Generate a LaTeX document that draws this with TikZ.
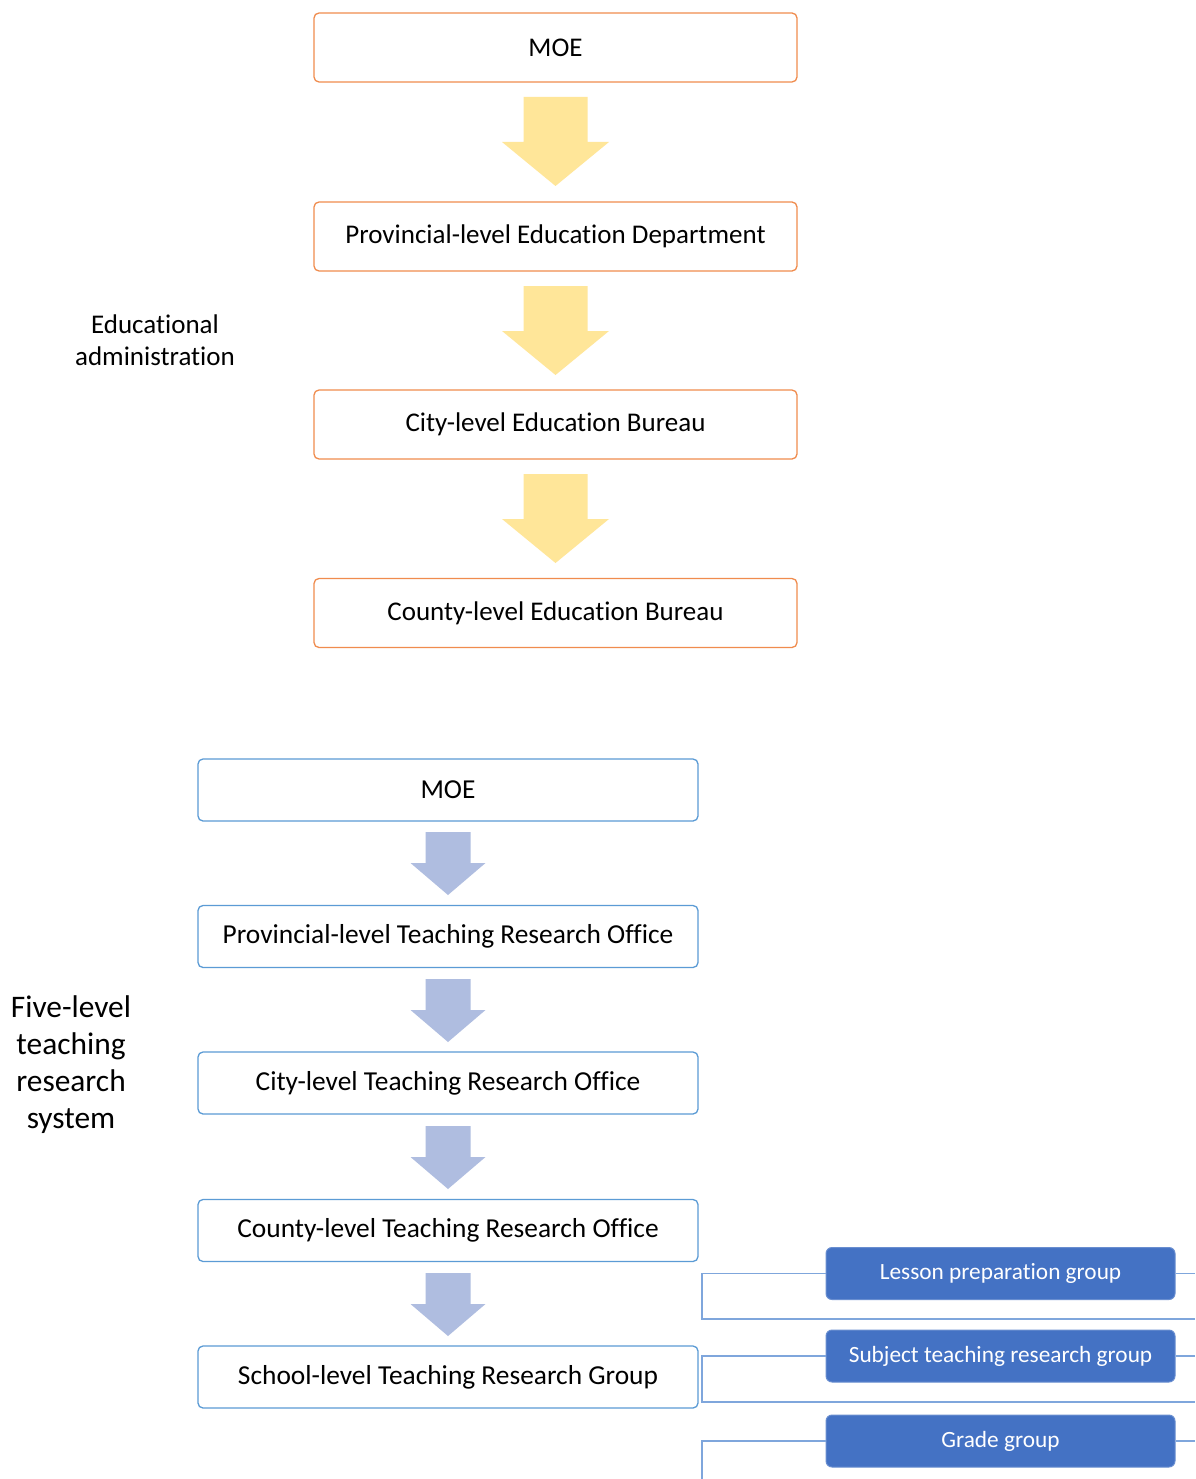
\documentclass[tikz,border=0pt]{standalone}
\usepackage{fontspec}
\setmainfont{Carlito}[Ligatures={NoCommon}]
\begin{document}
\begin{tikzpicture}[x=1pt,y=-1pt,
  obox/.style={draw=orangeb,line width=1.3pt,rounded corners=5pt,fill=white,minimum width=483pt,minimum height=69pt,font=\fontsize{27}{32}\selectfont,inner sep=0pt},
  bbox/.style={draw=blueb,line width=1.3pt,rounded corners=5pt,fill=white,minimum width=500pt,minimum height=62pt,font=\fontsize{27.4}{32}\selectfont,inner sep=0pt},
  fbox/.style={draw=fblue!80!white,line width=1pt,rounded corners=6pt,fill=fblue,minimum width=349pt,minimum height=52pt,text=white,font=\fontsize{23.3}{27}\selectfont,inner sep=0pt},
  lbl/.style={align=center,inner sep=0pt},
  conn/.style={draw=lineb,line width=1.4pt},
  pics/dnarrow/.style n args={5}{code={\fill[#5] (-#1,0) -- (#1,0) -- (#1,#3) -- (#2,#3) -- (0,#4) -- (-#2,#3) -- (-#1,#3) -- cycle;}}
]
\definecolor{orangeb}{HTML}{F08C4E}
\definecolor{blueb}{HTML}{5B9BD5}
\definecolor{fblue}{HTML}{4472C4}
\definecolor{lineb}{HTML}{7FA6DC}
\definecolor{yel}{HTML}{FFE699}
\definecolor{bgr}{HTML}{AFBDE0}
\useasboundingbox[fill=white] (0,0) rectangle (1195,1479);

% top hierarchy
\node[obox] (t1) at (555.5,47.5) {MOE};
\node[obox] (t2) at (555.5,236.5) {Provincial-level Education Department};
\node[obox] (t3) at (555.5,424.5) {City-level Education Bureau};
\node[obox] (t4) at (555.5,613) {County-level Education Bureau};
\pic at (555.5,97) {dnarrow={32}{53.5}{45}{89}{yel}};
\pic at (555.5,286) {dnarrow={32}{53.5}{45}{89}{yel}};
\pic at (555.5,474) {dnarrow={32}{53.5}{45}{89}{yel}};
\node[lbl,font=\fontsize{27}{32}\selectfont] (ea) at (155,340) {Educational\\administration};

% bottom hierarchy
\node[bbox] (b1) at (448,790) {MOE};
\node[bbox] (b2) at (448,936.5) {Provincial-level Teaching Research Office};
\node[bbox] (b3) at (448,1083) {City-level Teaching Research Office};
\node[bbox] (b4) at (448,1230.5) {County-level Teaching Research Office};
\node[bbox] (b5) at (448,1377) {School-level Teaching Research Group};
\pic at (448,832) {dnarrow={22.5}{37.5}{31}{63}{bgr}};
\pic at (448,979) {dnarrow={22.5}{37.5}{31}{63}{bgr}};
\pic at (448,1126) {dnarrow={22.5}{37.5}{31}{63}{bgr}};
\pic at (448,1273) {dnarrow={22.5}{37.5}{31}{63}{bgr}};
\node[lbl,font=\fontsize{31.4}{37}\selectfont] (fl) at (71,1065) {Five-level\\teaching\\research\\system};

% groups
\node[fbox] (g1) at (1000.5,1273.5) {Lesson preparation group};
\node[fbox] (g2) at (1000.5,1356) {Subject teaching research group};
\node[fbox] (g3) at (1000.5,1441) {Grade group};
\coordinate (r1) at (1195,1273.5);
\coordinate (r2) at (1195,1356);
\coordinate (r3) at (1195,1441);
\coordinate (e1) at (1195,1319);
\coordinate (e2) at (1195,1402);
\coordinate (e3) at (702,1479);
\draw[conn] (g1.west) -| (702,1319) -- (e1);
\draw[conn] (g1.east) -- (r1);
\draw[conn] (g2.west) -| (702,1402) -- (e2);
\draw[conn] (g2.east) -- (r2);
\draw[conn] (g3.west) -| (e3);
\draw[conn] (g3.east) -- (r3);
\end{tikzpicture}
\end{document}
